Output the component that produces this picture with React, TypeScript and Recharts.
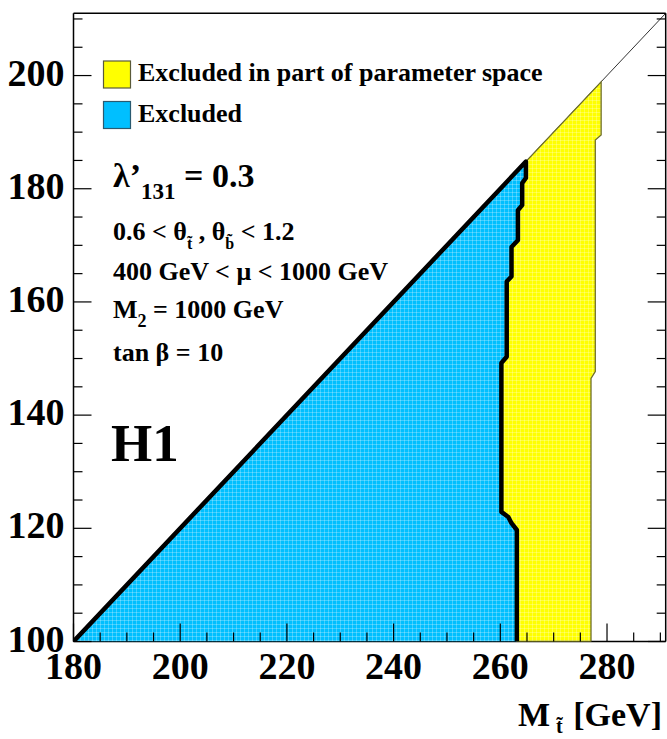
import { ComposedChart, XAxis, YAxis, Scatter, ReferenceLine, Polygon, Curve } from "recharts";

// stop mass / neutralino mass along the edge of the fully excluded region (bottom -> diagonal)
const excludedEdgeStop = [263.1, 263.1, 262.1, 261.5, 260.2, 260.2, 261.2, 261.2, 262.1, 262.1, 263.3, 263.3, 264.1, 264.1, 264.8, 264.8];
const excludedEdgeChi = [100, 119.7, 120.9, 122.0, 122.9, 149.2, 150.3, 163.6, 164.5, 169.7, 170.9, 176.2, 177.1, 181.0, 181.9, 184.8];

// right edge of the partly excluded band
const partialEdgeStop = [277.0, 277.0, 277.8, 277.8, 278.9, 278.9];
const partialEdgeChi = [100, 146.5, 147.7, 188.6, 189.5, 198.9];

// kinematic limit M_chi = M_stop - 80
const kinLimitStop = [180, 291];
const kinLimitChi = [100, 211];

const xTicks = [180, 185, 190, 195, 200, 205, 210, 215, 220, 225, 230, 235, 240, 245, 250, 255, 260, 265, 270, 275, 280, 285, 290];
const yTicks = [100, 105, 110, 115, 120, 125, 130, 135, 140, 145, 150, 155, 160, 165, 170, 175, 180, 185, 190, 195, 200, 205, 210];

const excludedEdge = excludedEdgeStop.map((m, i) => ({ m, chi: excludedEdgeChi[i] }));
const partialEdge = partialEdgeStop.map((m, i) => ({ m, chi: partialEdgeChi[i] }));
const origin = { m: kinLimitStop[0], chi: kinLimitChi[0] };

const excludedRegion = [origin, ...excludedEdge];
const partialRegion = [...[...excludedEdge].reverse(), ...partialEdge];
const excludedContour = [origin, ...[...excludedEdge].reverse()];

const BLUE = "#00bfff";
const YELLOW = "#ffff00";
const SERIF = '"Liberation Serif", "Times New Roman", serif';
const MAJOR = 18;
const MINOR = 9;
const LABEL_SIZE = 38;

const isMajor = (v: number) => v % 20 === 0;

function BottomTick({ x, y, payload }: any) {
  const major = isMajor(payload.value);
  return (
    <g>
      <line x1={x} x2={x} y1={y} y2={y - (major ? MAJOR : MINOR)} stroke="#000" strokeWidth={1.2} />
      {major && (
        <text x={x} y={y + 37} textAnchor="middle" fontFamily={SERIF} fontWeight={700} fontSize={LABEL_SIZE} fill="#000">
          {payload.value}
        </text>
      )}
    </g>
  );
}

function TopTick({ x, y, payload }: any) {
  const major = isMajor(payload.value);
  return <line x1={x} x2={x} y1={y} y2={y + (major ? MAJOR : MINOR)} stroke="#000" strokeWidth={1.2} />;
}

function LeftTick({ x, y, payload }: any) {
  const major = isMajor(payload.value);
  return (
    <g>
      <line x1={x} x2={x + (major ? MAJOR : MINOR)} y1={y} y2={y} stroke="#000" strokeWidth={1.2} />
      {major && (
        <text x={x - 9} y={y + 10} textAnchor="end" fontFamily={SERIF} fontWeight={700} fontSize={LABEL_SIZE} fill="#000">
          {payload.value}
        </text>
      )}
    </g>
  );
}

function RightTick({ x, y, payload }: any) {
  const major = isMajor(payload.value);
  return <line x1={x} x2={x - (major ? MAJOR : MINOR)} y1={y} y2={y} stroke="#000" strokeWidth={1.2} />;
}

// filled region with a faint mesh, drawn from the scatter's projected points
const meshFill = (id: string, color: string, stroke: string) => (p: any) => (
  <g>
    <defs>
      <pattern id={id} width={4} height={4} patternUnits="userSpaceOnUse">
        <rect width={4} height={4} fill={color} />
        <path d="M0 0.5H4M0.5 0V4" stroke="#fff" strokeOpacity={0.25} strokeWidth={1} />
      </pattern>
    </defs>
    <Polygon points={p.points} fill={`url(#${id})`} stroke={stroke} strokeWidth={1.3} />
  </g>
);

const contourLine = (p: any) => (
  <Curve type="linear" points={p.points} fill="none" stroke="#000" strokeWidth={4.5} strokeLinejoin="round" />
);

const noDot = () => <g />;

function Annotations() {
  const txt = { fontFamily: SERIF, fontWeight: 700, fill: "#000" } as const;
  return (
    <svg width={667} height={739} style={{ position: "absolute", left: 0, top: 0, pointerEvents: "none" }}>
      <rect x={103.5} y={61} width={27} height={27} fill={YELLOW} stroke="#5a5a3a" strokeWidth={1.2} />
      <text x={138} y={81} fontSize={26} {...txt}>Excluded in part of parameter space</text>
      <rect x={103.5} y={101.5} width={27} height={27} fill={BLUE} stroke="#2a5a70" strokeWidth={1.2} />
      <text x={138} y={122} fontSize={26} {...txt}>Excluded</text>

      <text x={113} y={187} fontSize={34} {...txt}>
        λ’<tspan fontSize={23} dy={12}>131</tspan>
        <tspan dy={-12}> = 0.3</tspan>
      </text>
      <text x={113} y={240} fontSize={26} {...txt}>
        0.6 &lt; θ<tspan fontSize={16} dy={9}>t̃</tspan>
        <tspan dy={-9}> , θ</tspan>
        <tspan fontSize={16} dy={9}>b̃</tspan>
        <tspan dy={-9}> &lt; 1.2</tspan>
      </text>
      <text x={113} y={280} fontSize={26} {...txt}>400 GeV &lt; μ &lt; 1000 GeV</text>
      <text x={113} y={318} fontSize={26} {...txt}>
        M<tspan fontSize={18} dy={9}>2</tspan>
        <tspan dy={-9}> = 1000 GeV</tspan>
      </text>
      <text x={113} y={361} fontSize={26} {...txt}>tan β = 10</text>
      <text x={111} y={461} fontSize={53} {...txt}>H1</text>

      <text x={662} y={726} fontSize={34} textAnchor="end" {...txt}>
        M<tspan fontSize={20} dx={6} dy={7}>t̃</tspan>
        <tspan dx={2} dy={-7}> [GeV]</tspan>
      </text>
    </svg>
  );
}

export default function App() {
  return (
    <div style={{ position: "absolute", left: 0, top: 0, width: 667, height: 739, background: "#fff" }}>
      <ComposedChart width={667} height={739} margin={{ top: 12.3, right: 0.3, bottom: 96.5, left: 72.5 }}>
        <XAxis
          xAxisId="b"
          dataKey="m"
          type="number"
          domain={[180, 291]}
          allowDataOverflow
          ticks={xTicks}
          interval={0}
          height={1}
          tickSize={0}
          tickMargin={0}
          tickLine={false}
          tick={BottomTick}
          axisLine={{ stroke: "#000", strokeWidth: 1.5 }}
        />
        <XAxis
          xAxisId="t"
          orientation="top"
          type="number"
          domain={[180, 291]}
          allowDataOverflow
          ticks={xTicks}
          interval={0}
          height={1}
          tickSize={0}
          tickMargin={0}
          tickLine={false}
          tick={TopTick}
          axisLine={{ stroke: "#000", strokeWidth: 1.5 }}
        />
        <YAxis
          yAxisId="l"
          dataKey="chi"
          type="number"
          domain={[100, 211]}
          allowDataOverflow
          ticks={yTicks}
          interval={0}
          width={1}
          tickSize={0}
          tickMargin={0}
          tickLine={false}
          tick={LeftTick}
          axisLine={{ stroke: "#000", strokeWidth: 1.5 }}
        />
        <YAxis
          yAxisId="r"
          orientation="right"
          type="number"
          domain={[100, 211]}
          allowDataOverflow
          ticks={yTicks}
          interval={0}
          width={1}
          tickSize={0}
          tickMargin={0}
          tickLine={false}
          tick={RightTick}
          axisLine={{ stroke: "#000", strokeWidth: 1.5 }}
        />
        <Scatter
          xAxisId="b"
          yAxisId="l"
          data={partialRegion}
          shape={noDot}
          line={meshFill("yellowMesh", YELLOW, "#6e6e2a")}
          isAnimationActive={false}
        />
        <Scatter
          xAxisId="b"
          yAxisId="l"
          data={excludedRegion}
          shape={noDot}
          line={meshFill("blueMesh", BLUE, "none")}
          isAnimationActive={false}
        />
        <ReferenceLine
          xAxisId="b"
          yAxisId="l"
          segment={[
            { x: kinLimitStop[0], y: kinLimitChi[0] },
            { x: kinLimitStop[1], y: kinLimitChi[1] },
          ]}
          stroke="#333"
          strokeWidth={1}
        />
        <Scatter
          xAxisId="b"
          yAxisId="l"
          data={excludedContour}
          shape={noDot}
          line={contourLine}
          isAnimationActive={false}
        />
      </ComposedChart>
      <Annotations />
    </div>
  );
}
